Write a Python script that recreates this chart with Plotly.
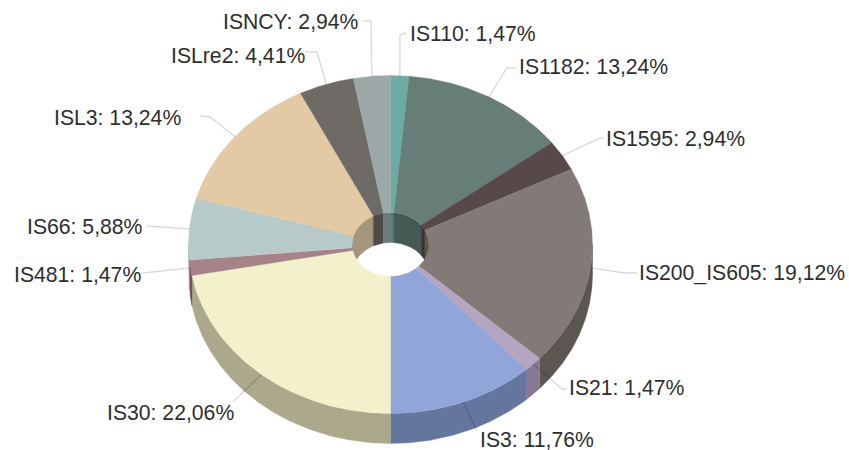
import numpy as np
import plotly.graph_objects as go

categories = ["IS110", "IS1182", "IS1595", "IS200_IS605", "IS21", "IS3",
              "IS30", "IS481", "IS66", "ISL3", "ISLre2", "ISNCY"]
percents = [1.47, 13.24, 2.94, 19.12, 1.47, 11.76,
            22.06, 1.47, 5.88, 13.24, 4.41, 2.94]
percent_text = ["1,47%", "13,24%", "2,94%", "19,12%", "1,47%", "11,76%",
                "22,06%", "1,47%", "5,88%", "13,24%", "4,41%", "2,94%"]

top_colors = ["#6CACA3", "#667D78", "#57494A", "#827A76", "#B5A5C0", "#92A5D8",
              "#F3F0CC", "#A58388", "#B8CAC8", "#E3CAA5", "#6E6B66", "#9CA7A8"]
outer_wall_colors = ["#4E7F78", "#465854", "#3C3233", "#5C5650", "#8A7890", "#64769E",
                     "#ABA88C", "#6F4F5A", "#84908E", "#A3967A", "#4F4A46", "#6E7878"]
inner_wall_colors = outer_wall_colors

# Geometry of the projected pie, in page pixels
CX, CY = 390.5, 244.5
RX, RY = 202.0, 169.0
IRX, IRY = 38.5, 32.0
DEPTH = 30.0

# Leader elbow points and label anchors, in page pixels
leader_paths = [
    [(400, 35), (406, 33)],
    [(507, 68), (516, 68)],
    [(600, 138), (604, 138)],
    [(625, 273), (637, 273)],
    [(562, 389), (566, 389)],
    [(477, 431)],
    [(233, 402)],
    [(143, 273)],
    [(160, 227), (147, 226)],
    [(210, 117), (200, 116)],
    [(317, 52), (305, 52)],
    [(371, 21), (363, 21)],
]
label_left = [410, 519, 606, 639, 569, 480, 107, 14, 27, 54, 171, 223]
label_mid = [33, 66, 138, 273, 387, 439.5, 412, 274, 226, 117, 55, 21]

edges = np.concatenate([[0], np.cumsum(percents)]) / np.sum(percents) * 360.0


def arc(a, b, rx, ry, dy=0.0):
    t = np.radians(np.linspace(a, b, max(3, int(abs(b - a) * 2) + 2)))
    return CX + rx * np.sin(t), CY + dy - ry * np.cos(t)


def poly(fig, x, y, color):
    fig.add_trace(go.Scatter(x=np.append(x, x[0]), y=np.append(y, y[0]), mode="lines",
                             fill="toself", fillcolor=color,
                             line=dict(color=color, width=0.4),
                             hoverinfo="skip", showlegend=False))


def band(fig, a, b, rx, ry, color):
    xa, ya = arc(a, b, rx, ry)
    xb, yb = arc(b, a, rx, ry, DEPTH)
    poly(fig, np.concatenate([xa, xb]), np.concatenate([ya, yb]), color)


fig = go.Figure()

# Outer side wall: front half of the ellipse
for i in range(len(categories)):
    a, b = max(edges[i], 90), min(edges[i + 1], 270)
    if b > a:
        band(fig, a, b, RX, RY, outer_wall_colors[i])

# Inner wall of the hole: back half of the ellipse
for i in range(len(categories)):
    for lo, hi in ((0, 90), (270, 360)):
        a, b = max(edges[i], lo), min(edges[i + 1], hi)
        if b > a:
            band(fig, a, b, IRX, IRY, inner_wall_colors[i])

# Top surface
for i in range(len(categories)):
    xo, yo = arc(edges[i], edges[i + 1], RX, RY)
    xi, yi = arc(edges[i + 1], edges[i], IRX, IRY)
    poly(fig, np.concatenate([xo, xi]), np.concatenate([yo, yi]), top_colors[i])

# Leaders start on the rim at each slice's mid angle
for i, path in enumerate(leader_paths):
    t = np.radians((edges[i] + edges[i + 1]) / 2)
    xs = [CX + RX * np.sin(t)] + [p[0] for p in path]
    ys = [CY - RY * np.cos(t)] + [p[1] for p in path]
    fig.add_trace(go.Scatter(x=xs, y=ys, mode="lines",
                             line=dict(color="rgba(0,0,0,0.15)", width=1.4),
                             hoverinfo="skip", showlegend=False))

for i, name in enumerate(categories):
    fig.add_annotation(x=label_left[i], y=label_mid[i], text=f"{name}: {percent_text[i]}",
                       showarrow=False, xanchor="left", yanchor="middle",
                       borderpad=0, borderwidth=0, align="left",
                       font=dict(family="Liberation Sans", size=21.2, color="#2E2E2E"))

fig.update_xaxes(range=[0, 849], visible=False, fixedrange=True)
fig.update_yaxes(range=[450, 0], visible=False, fixedrange=True)
fig.update_layout(width=849, height=450, margin=dict(l=0, r=0, t=0, b=0),
                  paper_bgcolor="white", plot_bgcolor="white", showlegend=False)
fig.write_html("out.html", config={"displayModeBar": False},
               post_script="document.body.style.margin='0';document.body.style.overflow='hidden';")
